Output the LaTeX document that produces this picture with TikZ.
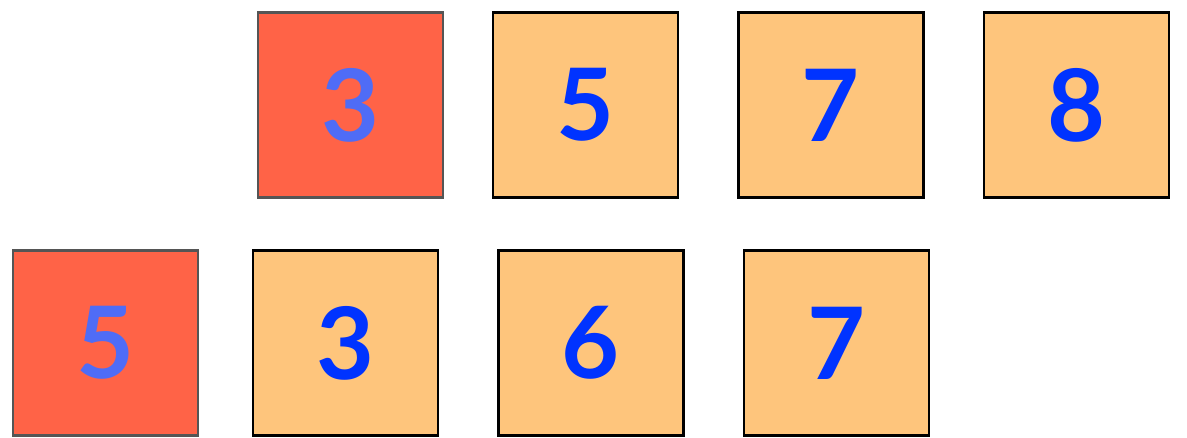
\documentclass[tikz,border=0pt]{standalone}
\usepackage{fontspec}
\setmainfont{Lato}
\usetikzlibrary{positioning}
\definecolor{pivotred}{HTML}{FF6347}
\definecolor{cellorange}{HTML}{FEC57C}
\definecolor{digitblue}{HTML}{0033FF}
\definecolor{pivotblue}{HTML}{4F6CF6}
\definecolor{edgegray}{HTML}{555555}
\begin{document}
\begin{tikzpicture}[
    x=1pt, y=1pt,
    node distance=58pt,
    cell/.style={rectangle, draw=black, line width=2.2pt, fill=cellorange, minimum size=185pt, inner sep=0pt,
                 text=digitblue, font=\fontsize{100}{100}\selectfont\bfseries},
    pivot/.style={cell, draw=edgegray, fill=pivotred, text=pivotblue}
]
    \useasboundingbox (0,0) rectangle (1187,438);

    % Top row
    \node[pivot] (top1) at (350.5,333) {3};
    \node[cell, right=48pt of top1] (top2) {5};
    \node[cell, right=of top2] (top3) {7};
    \node[cell, right=of top3] (top4) {8};

    % Bottom row
    \node[pivot] (bot1) at (105.5,95) {5};
    \node[cell, right=53pt of bot1] (bot2) {3};
    \node[cell, right=of bot2] (bot3) {6};
    \node[cell, right=of bot3] (bot4) {7};
\end{tikzpicture}
\end{document}
